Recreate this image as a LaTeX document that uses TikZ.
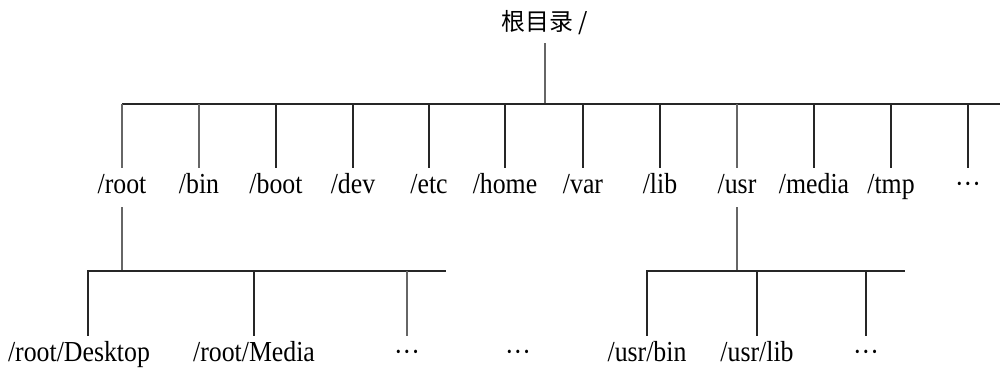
\documentclass[tikz,border=0pt]{standalone}
\usepackage{fontspec}
\setmainfont{Liberation Serif}[FakeStretch=0.89]
\newfontfamily\cjk{Noto Sans CJK SC}
\usepackage{tikz}

\begin{document}
\begin{tikzpicture}[
    x=0.2mm, y=-0.2mm,
    dir/.style={anchor=base, inner sep=1.1mm, text height=11.5pt, text depth=4.1pt, font=\fontsize{16.5}{19}\selectfont},
    rootdir/.style={anchor=base, inner sep=1.5mm, font=\cjk\fontsize{13.6}{16}\selectfont},
    strong/.style={line width=1.1pt, black!85},
    faint/.style={line width=0.6pt, black!60}
]
\useasboundingbox (0,0) rectangle (1000,372);

% Root directory
\node[rootdir] (rootdir) at (545,31) {根目录 /};
\coordinate (top) at (545,104);
\coordinate (top-end) at (1000,104);
\draw[faint] (rootdir.south) -- (top);

% First level
\node[dir] (root) at (122,194) {/root};
\node[dir] (bin) at (199,194) {/bin};
\node[dir] (boot) at (276,194) {/boot};
\node[dir] (dev) at (353,194) {/dev};
\node[dir] (etc) at (429,194) {/etc};
\node[dir] (home) at (505,194) {/home};
\node[dir] (var) at (583,194) {/var};
\node[dir] (lib) at (660,194) {/lib};
\node[dir] (usr) at (737,194) {/usr};
\node[dir] (media) at (814,194) {/media};
\node[dir] (tmp) at (891,194) {/tmp};
\node[dir] (more) at (968,194) {···};

\draw[strong] (root.north |- top) -- (top-end);
\draw[faint] (root.north |- top) -- (root.north);
\draw[faint] (bin.north |- top) -- (bin.north);
\draw[strong] (boot.north |- top) -- (boot.north);
\draw[strong] (dev.north |- top) -- (dev.north);
\draw[strong] (etc.north |- top) -- (etc.north);
\draw[strong] (home.north |- top) -- (home.north);
\draw[strong] (var.north |- top) -- (var.north);
\draw[strong] (lib.north |- top) -- (lib.north);
\draw[faint] (usr.north |- top) -- (usr.north);
\draw[strong] (media.north |- top) -- (media.north);
\draw[strong] (tmp.north |- top) -- (tmp.north);
\draw[strong] (more.north |- top) -- (more.north);

% Under /root
\coordinate (rootbus) at (122,271);
\coordinate (rootbus-w) at (88,271);
\coordinate (rootbus-e) at (446,271);
\node[dir] (desktop) at (79,362) {/root/Desktop};
\node[dir] (rmedia) at (254,362) {/root/Media};
\node[dir] (rmore) at (407,362) {···};
\draw[faint] (root.south) -- (rootbus);
\draw[strong] (rootbus-w |- desktop.north) -- (rootbus-w) -- (rootbus-e);
\draw[strong] (rmedia.north |- rootbus) -- (rmedia.north);
\draw[faint] (rmore.north |- rootbus) -- (rmore.north);

\node[dir] (gap) at (518,362) {···};

% Under /usr
\coordinate (usrbus) at (737,271);
\coordinate (usrbus-e) at (905,271);
\node[dir] (ubin) at (647,362) {/usr/bin};
\node[dir] (ulib) at (757,362) {/usr/lib};
\node[dir] (umore) at (866,362) {···};
\draw[faint] (usr.south) -- (usrbus);
\draw[strong] (ubin.north) -- (ubin.north |- usrbus) -- (usrbus-e);
\draw[strong] (ulib.north |- usrbus) -- (ulib.north);
\draw[strong] (umore.north |- usrbus) -- (umore.north);

\end{tikzpicture}
\end{document}
